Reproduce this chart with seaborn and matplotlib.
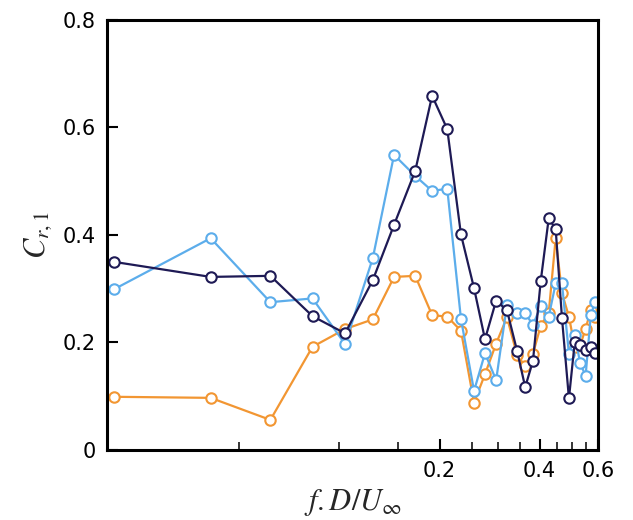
import matplotlib
matplotlib.use("Agg")
import matplotlib.pyplot as plt
import matplotlib.ticker as mticker
import seaborn as sns
import pandas as pd

# Frequencies (f.D/U_inf)
freq = [0.021, 0.041, 0.062, 0.083, 0.104, 0.126, 0.146, 0.169, 0.190, 0.211,
        0.232, 0.254, 0.274, 0.296, 0.319, 0.342, 0.362, 0.382, 0.403, 0.426,
        0.447, 0.467, 0.490, 0.510, 0.530, 0.550, 0.570, 0.588]

navy_vals = [0.350, 0.322, 0.324, 0.249, 0.217, 0.316, 0.419, 0.519, 0.659, 0.597,
             0.401, 0.301, 0.206, 0.278, 0.260, 0.185, 0.117, 0.166, 0.314, 0.431,
             0.411, 0.245, 0.096, 0.200, 0.195, 0.186, 0.192, 0.180]

light_vals = [0.299, 0.394, 0.275, 0.282, 0.197, 0.357, 0.549, 0.510, 0.482, 0.486,
              0.244, 0.110, 0.180, 0.130, 0.270, 0.254, 0.254, 0.233, 0.267, 0.248,
              0.310, 0.310, 0.179, 0.214, 0.161, 0.138, 0.251, 0.276]

orange_vals = [0.099, 0.097, 0.056, 0.192, 0.225, 0.243, 0.322, 0.324, 0.251, 0.248,
               0.222, 0.088, 0.141, 0.198, 0.247, 0.177, 0.156, 0.179, 0.231, 0.255,
               0.394, 0.292, 0.248, 0.192, 0.195, 0.226, 0.260, 0.247]

series_names = ["navy", "light", "orange"]
series_colors = {"navy": "#1e1a55", "light": "#5cadeb", "orange": "#f29632"}

x_major = [0.2, 0.4, 0.6]
x_minor = [0.05, 0.1, 0.15, 0.25, 0.3, 0.35, 0.45, 0.5, 0.55]
y_ticks = [0, 0.2, 0.4, 0.6, 0.8]
y_ticklabels = ["0", "0.2", "0.4", "0.6", "0.8"]

df = pd.concat([
    pd.DataFrame({"f": freq, "C": vals, "series": name})
    for name, vals in zip(series_names, [navy_vals, light_vals, orange_vals])
])

sns.set_theme(style="white")
plt.rcParams["mathtext.fontset"] = "stix"
plt.rcParams["font.family"] = ["DejaVu Sans"]

fig = plt.figure(figsize=(6.33, 5.20), dpi=100)
ax = fig.add_axes([0.169, 0.1346, 0.776, 0.827])

# draw in order: orange (bottom), light, navy (top)
for name in ["orange", "light", "navy"]:
    sub = df[df["series"] == name]
    sns.lineplot(data=sub, x="f", y="C", ax=ax, color=series_colors[name],
                 marker="o", markersize=7.5, markerfacecolor="white",
                 markeredgecolor=series_colors[name], markeredgewidth=1.5,
                 linewidth=1.6, sort=False, legend=False)

ax.set_xscale("log")
ax.set_xlim(0.02, 0.6)
ax.set_ylim(0, 0.8)

ax.xaxis.set_major_locator(mticker.FixedLocator(x_major))
ax.xaxis.set_major_formatter(mticker.FixedFormatter([str(v) for v in x_major]))
ax.xaxis.set_minor_locator(mticker.FixedLocator(x_minor))
ax.xaxis.set_minor_formatter(mticker.NullFormatter())
ax.set_yticks(y_ticks)
ax.set_yticklabels(y_ticklabels)

ax.tick_params(axis="both", which="major", direction="in", length=8, width=1.5,
               labelsize=15, colors="black", pad=8, bottom=True, left=True,
               top=False, right=False)
ax.tick_params(axis="x", which="minor", direction="in", length=6, width=1.3,
               bottom=True, top=False)

for sp in ax.spines.values():
    sp.set_visible(True)
    sp.set_color("black")
    sp.set_linewidth(2.2)

ax.set_xlabel(r"$f.D/U_{\infty}$", fontsize=22, labelpad=4)
ax.set_ylabel(r"$C_{r,1}$", fontsize=22, labelpad=6)

fig.savefig("out.png", dpi=100, facecolor="white")
